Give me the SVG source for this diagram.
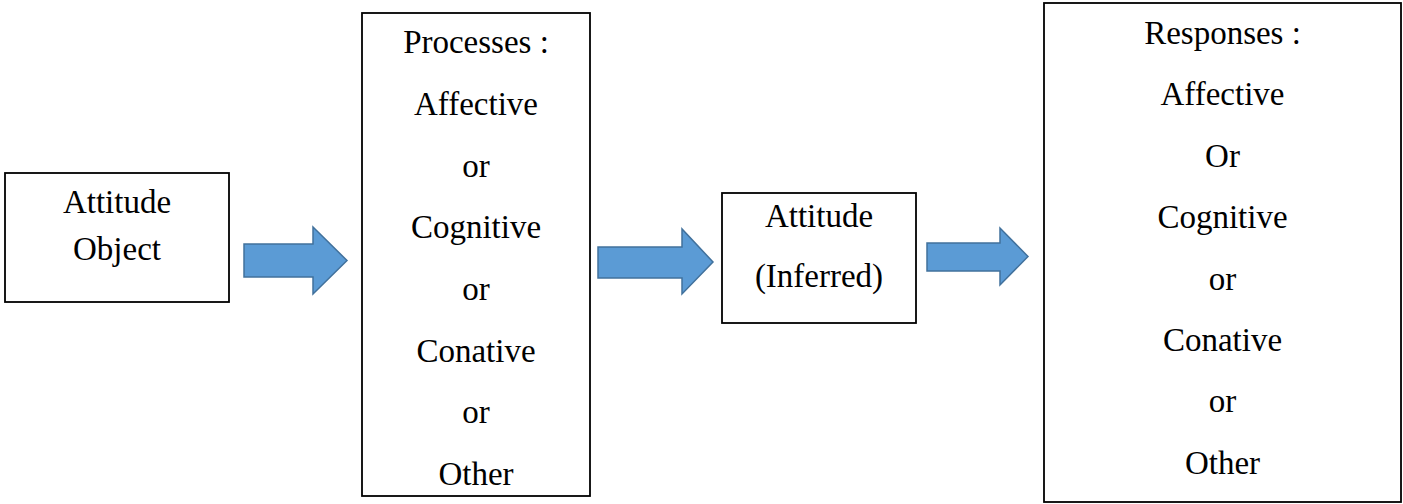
<svg xmlns="http://www.w3.org/2000/svg" width="1403" height="504" viewBox="0 0 1403 504">
<style>
.box{fill:#fff;stroke:#000;stroke-width:1.8}
.arr{fill:#5B9BD5;stroke:#41719C;stroke-width:1.5;stroke-linejoin:miter}
text{font-family:"Liberation Serif","Times New Roman",serif;font-size:33px;fill:#000;text-anchor:middle}
</style>
<rect width="1403" height="504" fill="#fff"/>
<g id="connectors">
<polygon class="arr" points="244,244 313,244 313,227 347,260.5 313,294 313,277 244,277"/>
<polygon class="arr" points="598,247 682,247 682,229 713,262 682,294 682,278 598,278"/>
<polygon class="arr" points="927,243 1000,243 1000,228 1028,256.5 1000,285 1000,271 927,271"/>
</g>
<g id="node-attitude-object">
<rect class="box" x="5" y="173" width="224" height="129"/>
<text x="117" y="213">Attitude</text>
<text x="117" y="260">Object</text>
</g>
<g id="node-processes">
<rect class="box" x="362" y="13" width="228" height="483"/>
<text x="476" y="53">Processes :</text>
<text x="476" y="115">Affective</text>
<text x="476" y="177">or</text>
<text x="476" y="238">Cognitive</text>
<text x="476" y="300">or</text>
<text x="476" y="362">Conative</text>
<text x="476" y="423">or</text>
<text x="476" y="485">Other</text>
</g>
<g id="node-attitude-inferred">
<rect class="box" x="722" y="193" width="194" height="130"/>
<text x="819" y="227">Attitude</text>
<text x="819" y="287">(Inferred)</text>
</g>
<g id="node-responses">
<rect class="box" x="1044" y="3" width="357" height="499"/>
<text x="1222.5" y="44">Responses :</text>
<text x="1222.5" y="105">Affective</text>
<text x="1222.5" y="167">Or</text>
<text x="1222.5" y="228">Cognitive</text>
<text x="1222.5" y="290">or</text>
<text x="1222.5" y="351">Conative</text>
<text x="1222.5" y="412">or</text>
<text x="1222.5" y="474">Other</text>
</g>
</svg>
